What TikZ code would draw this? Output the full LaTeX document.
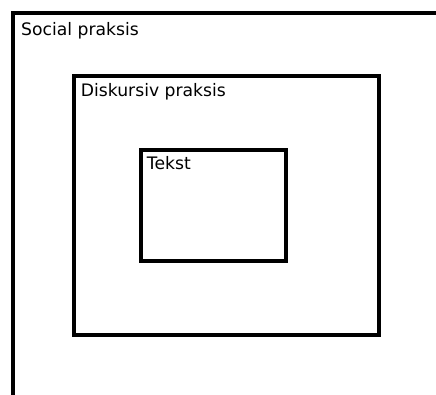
\documentclass[tikz,border=0pt]{standalone}
\usepackage{fontspec}
\setmainfont{DejaVu Sans}
\begin{document}
\begin{tikzpicture}[x=1pt,y=-1pt,
  frame/.style={draw=black,line width=4pt,fill=none,outer sep=0pt,inner sep=0pt},
  lbl/.style={anchor=base west,inner sep=0pt,font=\fontsize{17.2}{20}\selectfont}]
\useasboundingbox (0,0) rectangle (436,394);
\clip (0,0) rectangle (436,394);
% outer frame (only top and left visible)
\coordinate (o1) at (13.3,400);
\coordinate (o2) at (13.3,12.7);
\coordinate (o3) at (440,12.7);
\draw[frame,line join=miter] (o1) -- (o2) -- (o3);
% middle frame
\node[frame,minimum width=305pt,minimum height=259pt,anchor=north west] (disk) at (73.5,75.5) {};
% inner frame
\node[frame,minimum width=145.5pt,minimum height=110.2pt,anchor=north west] (tekst) at (140.5,150.3) {};
% labels
\node[lbl] (lsoc) at (21,35) {Social praksis};
\node[lbl] (ldisk) at (80.7,96) {Diskursiv praksis};
\node[lbl] (ltekst) at (146.7,169.3) {Tekst};
\end{tikzpicture}
\end{document}
